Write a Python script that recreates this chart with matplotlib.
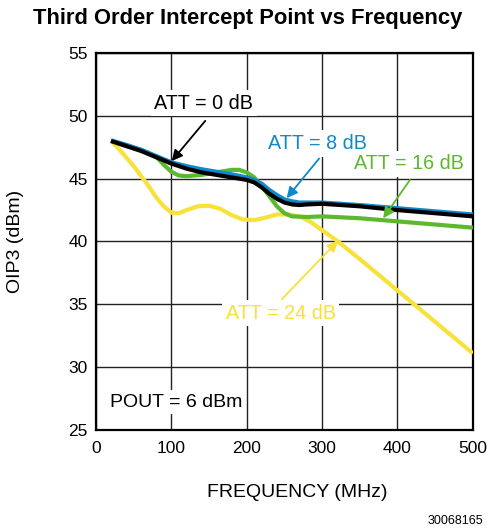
import matplotlib.pyplot as plt

plt.rcParams['font.family'] = ['Liberation Sans', 'DejaVu Sans']

# OIP3 vs frequency, POUT = 6 dBm, one trace per attenuation setting
freq_0 = [20, 40, 60, 80, 100, 120, 140, 160, 180, 200, 210, 220, 230, 240,
          250, 260, 270, 280, 300, 350, 400, 450, 500]
oip3_0 = [48.0, 47.6, 47.2, 46.7, 46.2, 45.8, 45.5, 45.3, 45.1, 44.9, 44.7,
          44.3, 43.8, 43.4, 43.1, 42.95, 42.9, 42.95, 43.0, 42.8, 42.5, 42.25, 42.0]

freq_8 = [20, 40, 60, 80, 100, 120, 140, 160, 180, 200, 210, 220, 230, 240,
          250, 260, 270, 280, 300, 350, 400, 450, 500]
oip3_8 = [48.05, 47.7, 47.3, 46.8, 46.3, 46.0, 45.75, 45.55, 45.35, 45.1, 44.9,
          44.6, 44.1, 43.7, 43.35, 43.2, 43.1, 43.1, 43.1, 42.9, 42.65, 42.4, 42.15]

freq_16 = [20, 40, 60, 80, 90, 100, 110, 120, 140, 160, 180, 190, 200, 210,
           220, 230, 240, 250, 260, 280, 300, 350, 400, 450, 500]
oip3_16 = [48.0, 47.6, 47.3, 46.75, 46.1, 45.55, 45.25, 45.2, 45.3, 45.5, 45.7,
           45.7, 45.5, 45.1, 44.4, 43.6, 42.8, 42.25, 42.0, 41.95, 42.0, 41.85,
           41.6, 41.35, 41.1]

freq_24 = [20, 30, 40, 50, 60, 70, 80, 90, 100, 110, 120, 135, 150, 165, 180,
           195, 210, 225, 240, 255, 270, 285, 300, 320, 350, 400, 450, 500]
oip3_24 = [48.0, 47.4, 46.7, 46.0, 45.2, 44.4, 43.5, 42.8, 42.3, 42.25, 42.5,
           42.8, 42.85, 42.6, 42.1, 41.75, 41.7, 41.9, 42.15, 42.15, 42.0, 41.55,
           40.9, 40.05, 38.6, 36.1, 33.6, 31.1]

x_ticks = [0, 100, 200, 300, 400, 500]
y_ticks = [25, 30, 35, 40, 45, 50, 55]

c_black = '#000000'
c_blue = '#1088cc'
c_green = '#5cb82e'
c_yellow = '#f8e13a'

fig = plt.figure(figsize=(4.87, 5.3), dpi=100)
ax = fig.add_axes([0.197, 0.1887, 0.774, 0.7113])

ax.plot(freq_24, oip3_24, color=c_yellow, lw=3.0, zorder=3, solid_capstyle='butt')
ax.plot(freq_16, oip3_16, color=c_green, lw=3.0, zorder=4, solid_capstyle='butt')
ax.plot(freq_8, oip3_8, color=c_blue, lw=3.0, zorder=5, solid_capstyle='butt')
ax.plot(freq_0, oip3_0, color=c_black, lw=3.0, zorder=6, solid_capstyle='butt')

ax.set_xlim(0, 500)
ax.set_ylim(25, 55)
ax.set_xticks(x_ticks)
ax.set_yticks(y_ticks)
ax.grid(True, color='#222222', lw=1.0)
ax.set_axisbelow(True)
ax.tick_params(length=0, labelsize=12.5)
ax.tick_params(axis='x', pad=8)
ax.tick_params(axis='y', pad=6)
for sp in ax.spines.values():
    sp.set_linewidth(1.6)

ax.set_xlabel('FREQUENCY (MHz)', fontsize=14)
ax.xaxis.set_label_coords(0.533, -0.143)
ax.set_ylabel('OIP3 (dBm)', fontsize=14)
ax.yaxis.set_label_coords(-0.192, 0.5)

fig.text(0.508, 0.966, 'Third Order Intercept Point vs Frequency',
         fontsize=15.8, fontweight='bold', ha='center', va='center')

box = dict(facecolor='white', edgecolor='none', pad=2.5)


def label(text, xy, color, head, tail):
    ax.text(xy[0], xy[1], text, color=color, fontsize=14.2, ha='center',
            va='center', bbox=box, zorder=7)
    ax.annotate('', xy=head, xytext=tail, zorder=8,
                arrowprops=dict(arrowstyle='-|>', color=color, lw=1.3,
                                mutation_scale=16, shrinkA=0, shrinkB=0))


label('ATT = 0 dB', (143, 51.0), c_black, (100.5, 46.4), (145, 49.6))
label('ATT = 8 dB', (294, 47.8), c_blue, (253, 43.45), (296, 46.6))
label('ATT = 16 dB', (415, 46.2), c_green, (381, 41.85), (416.5, 44.9))
label('ATT = 24 dB', (245, 34.3), c_yellow, (321, 40.05), (246.5, 35.4))

ax.text(107, 27.2, 'POUT = 6 dBm', fontsize=14, ha='center', va='center',
        bbox=box, zorder=7)

fig.text(0.992, 0.017, '30068165', fontsize=9, ha='right', va='center')

fig.savefig('out.png', dpi=100)
